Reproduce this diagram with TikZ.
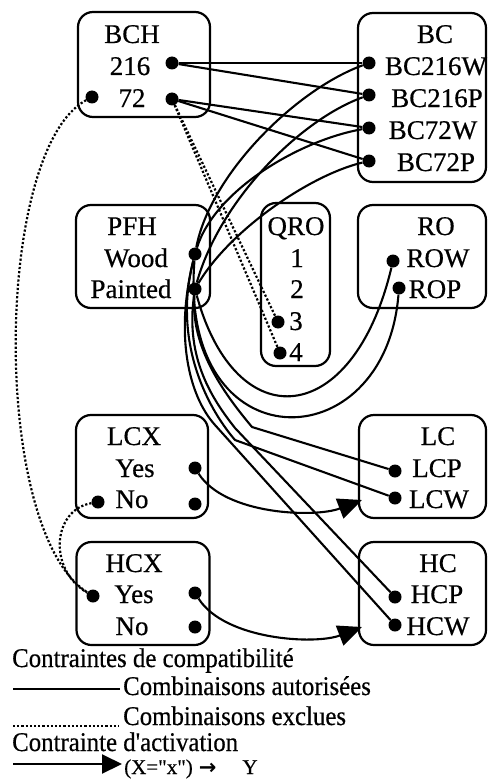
\documentclass[tikz,border=0pt]{standalone}
\usepackage{fontspec}
\setmainfont{Liberation Serif}[FakeBold=0.5]
\newfontfamily\legendfont[FakeStretch=0.92,FakeBold=0.5]{Liberation Serif}
\newfontfamily\rulefont[Ligatures=TeXOff,FakeBold=0.5]{Liberation Serif}
\newfontfamily\arrowfont{DejaVu Sans Bold}
\usepackage{tikz}
\usetikzlibrary{arrows.meta}

\begin{document}
\begin{tikzpicture}[x=1pt,y=-1pt,
	font=\fontsize{27}{31}\selectfont,
	box/.style={draw, line width=2.2pt, rounded corners=15pt, inner sep=0pt},
	lbl/.style={anchor=base, inner sep=0pt},
	spot/.style={circle, fill, inner sep=0pt, minimum size=13pt},
	ok/.style={line width=2.1pt},
	ko/.style={line width=2.2pt, dotted},
	act/.style={line width=2.1pt, -{Triangle[length=24pt,width=21pt]}}]
\useasboundingbox (0,0) rectangle (487,781);

\node [box, minimum width=132pt, minimum height=105pt] (bch) at (144,64.5) {};
\node [box, minimum width=128pt, minimum height=169pt] (bc) at (422,97.5) {};
\node [box, minimum width=134pt, minimum height=103pt] (pfh) at (143,256.5) {};
\node [box, minimum width=69pt, minimum height=163pt] (qro) at (295.5,284.5) {};
\node [box, minimum width=128pt, minimum height=103pt] (ro) at (422,256.5) {};
\node [box, minimum width=132pt, minimum height=103pt] (lcx) at (142,466.5) {};
\node [box, minimum width=127pt, minimum height=103pt] (lc) at (422.5,466.5) {};
\node [box, minimum width=133pt, minimum height=103pt] (hcx) at (143,593.5) {};
\node [box, minimum width=127pt, minimum height=103pt] (hc) at (422.5,593.5) {};

\node [lbl] (bchT) at (132,43) {BCH};
\node [lbl] (bch216) at (130,75) {216};
\node [lbl] (bch72) at (132,107) {72};
\node [lbl] (bcT) at (435,43) {BC};
\node [lbl] (bc216w) at (436,75) {BC216W};
\node [lbl] (bc216p) at (437,107) {BC216P};
\node [lbl] (bc72w) at (433,139) {BC72W};
\node [lbl] (bc72p) at (436,171) {BC72P};
\node [lbl] (pfhT) at (132,235) {PFH};
\node [lbl] (wood) at (136,267) {Wood};
\node [lbl] (painted) at (131,298) {Painted};
\node [lbl] (qroT) at (296,235) {QRO};
\node [lbl] (q1) at (297,267) {1};
\node [lbl] (q2) at (297,298) {2};
\node [lbl] (q3) at (296,330) {3};
\node [lbl] (q4) at (296,361) {4};
\node [lbl] (roT) at (436,235) {RO};
\node [lbl] (row) at (438,267) {ROW};
\node [lbl] (rop) at (435,298) {ROP};
\node [lbl] (lcxT) at (134,445) {LCX};
\node [lbl] (lcxyes) at (135,477) {Yes};
\node [lbl] (lcxno) at (132,508) {No};
\node [lbl] (lcT) at (438,445) {LC};
\node [lbl] (lcp) at (437,477) {LCP};
\node [lbl] (lcw) at (439,508) {LCW};
\node [lbl] (hcxT) at (134,572) {HCX};
\node [lbl] (hcxyes) at (134,603) {Yes};
\node [lbl] (hcxno) at (132,635) {No};
\node [lbl] (hcT) at (438,572) {HC};
\node [lbl] (hcp) at (437,603) {HCP};
\node [lbl] (hcw) at (438,635) {HCW};

\node [spot] (d216) at (172,63) {};
\node [spot] (d72) at (172,99) {};
\node [spot] (d72l) at (92,97) {};
\node [spot] (dbc216w) at (369,63) {};
\node [spot] (dbc216p) at (369,95) {};
\node [spot] (dbc72w) at (369,128) {};
\node [spot] (dbc72p) at (369,161) {};
\node [spot] (dwood) at (195,254) {};
\node [spot] (dpainted) at (195,289) {};
\node [spot] (dq3) at (278,322) {};
\node [spot] (dq4) at (280,353) {};
\node [spot] (drow) at (393,261) {};
\node [spot] (drop) at (399,288) {};
\node [spot] (dlyes) at (195,468) {};
\node [spot] (dlnol) at (98,502) {};
\node [spot] (dlnor) at (195,504) {};
\node [spot] (dlcp) at (395,471) {};
\node [spot] (dlcw) at (395,498) {};
\node [spot] (dhyesl) at (93,596) {};
\node [spot] (dhyes) at (195,593) {};
\node [spot] (dhno) at (195,627) {};
\node [spot] (dhcp) at (395,597) {};
\node [spot] (dhcw) at (395,625) {};

\coordinate (klcw) at (235,440);
\coordinate (klcp) at (252,427);
\coordinate (khcw) at (215,425);
\coordinate (khcp) at (235,428);
\coordinate (lcin) at (362,500);
\coordinate (hcin) at (362,627);

\draw [ok] (d216) -- (dbc216w);
\draw [ok] (d216) -- (dbc216p);
\draw [ok] (d72) -- (dbc72w);
\draw [ok] (d72) -- (dbc72p);
\draw [ok] (dwood) .. controls +(15,-79) and +(-74,27) .. (dbc216w);
\draw [ok] (dwood) .. controls +(20,-64) and +(-69,12) .. (dbc72w);
\draw [ok] (dpainted) .. controls +(25,-89) and +(-69,25) .. (dbc216p);
\draw [ok] (dpainted) .. controls +(35,-59) and +(-59,14) .. (dbc72p);
\draw [ok] (dpainted) .. controls +(41,150) and +(-40,168) .. (drow);
\draw [ok] (dwood) .. controls +(-17,211) and +(-14,174) .. (drop);
\draw [ok] (dwood) .. controls +(-22,85) and +(-30,-35) .. (klcw) -- (dlcw);
\draw [ok] (dwood) .. controls +(-20,80) and +(-27,-30) .. (khcw) -- (dhcw);
\draw [ok] (dpainted) .. controls +(-5,60) and +(-25,-30) .. (klcp) -- (dlcp);
\draw [ok] (dpainted) .. controls +(-10,70) and +(-22,-28) .. (khcp) -- (dhcp);

\draw [ko] (d72) -- (dq3);
\draw [ko] (d72) -- (dq4);
\draw [ko] (d72l) .. controls +(-98,53) and +(-103,-66) .. (dhyesl);
\draw [ko] (dlnol) .. controls +(-46,8) and +(-45,-26) .. (dhyesl);

\draw [act] (dlyes) .. controls +(30,47) and +(-47,18) .. (lcin);
\draw [act] (dhyes) .. controls +(30,47) and +(-47,18) .. (hcin);

\node [lbl, anchor=base west] (lgcomp) at (12,667) {\legendfont Contraintes de compatibilité};
\coordinate (lok1) at (13,689);
\coordinate (lok2) at (120,689);
\draw [ok] (lok1) -- (lok2);
\node [lbl, anchor=base west] (lgok) at (123,695) {\legendfont Combinaisons autorisées};
\coordinate (lko1) at (13,726);
\coordinate (lko2) at (119,726);
\draw [ko, line width=1.3pt] (lko1) -- (lko2);
\node [lbl, anchor=base west] (lgko) at (123,725) {\legendfont Combinaisons exclues};
\node [lbl, anchor=base west] (lgact) at (12,751) {\legendfont Contrainte d'activation};
\coordinate (lact1) at (13,764);
\coordinate (lact2) at (122,764);
\draw [ok, -{Triangle[length=20pt,width=19pt]}] (lact1) -- (lact2);
\node [lbl, anchor=base west] (lgrule) at (124,774) {\fontsize{21}{24}\selectfont\rulefont (X="x")\hspace{6pt}{\arrowfont →}\hspace{26pt}Y};
\end{tikzpicture}
\end{document}
